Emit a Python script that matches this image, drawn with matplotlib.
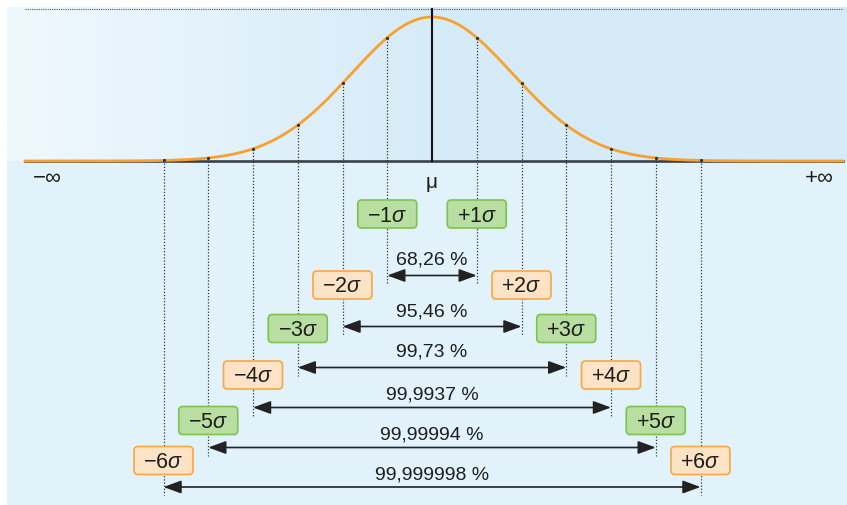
import numpy as np
import matplotlib
matplotlib.use("Agg")
import matplotlib.pyplot as plt
from matplotlib.patches import FancyBboxPatch, Rectangle
from matplotlib.colors import LinearSegmentedColormap

# ------------------ DATA ------------------
sigma_levels = [1, 2, 3, 4, 5, 6]
coverage_labels = ["68,26 %", "95,46 %", "99,73 %", "99,9937 %", "99,99994 %", "99,999998 %"]
box_kinds = ["green", "orange", "green", "orange", "green", "orange"]
curve_width = 1.8   # spread of the drawn bell, in sigma-marker units

# ------------------ LAYOUT (pixels) ------------------
W, H = 847, 506
MU_PX, SIGMA_PX = 432, 44.75
BASE_Y, PEAK_Y = 162, 18
box_y = [215, 286, 329.5, 376, 421.5, 461.5]
pct_y = [260, 312, 352, 395, 435, 475]
arrow_y = [276.5, 327.5, 368.5, 408.5, 448.5, 488]
BOX_W, BOX_H = 59, 28

FILL = {"green": "#b9dea1", "orange": "#fde3c6"}
EDGE = {"green": "#7cc352", "orange": "#f7a744"}
ORANGE = "#f8a12f"
TXT = "#1e1e1e"
FONT = ["Liberation Sans", "DejaVu Sans"]

plt.rcParams["font.family"] = FONT
plt.rcParams["mathtext.fontset"] = "custom"
plt.rcParams["mathtext.rm"] = "Liberation Sans"
plt.rcParams["mathtext.it"] = "Liberation Sans:italic"


def px_x(p):
    return (p - MU_PX) / SIGMA_PX


fig = plt.figure(figsize=(W / 100, H / 100), dpi=100)
ax = fig.add_axes([0, 0, 1, 1])
ax.axis("off")

# ------------------ BACKGROUND ------------------
# top band: light-to-blue gradient up to mu, flat blue to the right
xl, xr = px_x(7), px_x(W)
grad_cmap = LinearSegmentedColormap.from_list("bg", ["#eff8fd", "#e3f2fb", "#d6ebf8"])
ax.imshow(np.linspace(0, 1, 256)[None, :], extent=(xl, 0, BASE_Y, 8),
          aspect="auto", cmap=grad_cmap, zorder=0)
ax.add_patch(Rectangle((0, 8), xr, BASE_Y - 8, color="#d6ebf8", lw=0, zorder=0))
ax.add_patch(Rectangle((xl, BASE_Y), xr - xl, H - BASE_Y, color="#e1f2fa", lw=0, zorder=0))

# top dotted border
ax.plot([px_x(25), px_x(843)], [9.5, 9.5], ls=(0, (1, 1)), lw=0.8, color="#555555", zorder=1)

# ------------------ CURVE ------------------
x = np.linspace(px_x(25), px_x(843), 600)
bell = np.exp(-x ** 2 / (2 * curve_width ** 2))
ax.plot([px_x(25), px_x(843)], [BASE_Y, BASE_Y], color="#3a4248", lw=1.9, zorder=2)
ax.plot(x, BASE_Y - (BASE_Y - PEAK_Y) * bell, color=ORANGE, lw=2.0, zorder=3)
ax.plot([0, 0], [10, BASE_Y], color="#111111", lw=1.5, zorder=4)

ax.text(px_x(47), 178, "−∞", fontsize=16, ha="center", va="center", color=TXT)
ax.text(px_x(819), 178, "+∞", fontsize=16, ha="center", va="center", color=TXT)
ax.text(0, 182, "μ", fontsize=15, ha="center", va="center", color=TXT)

# ------------------ SIGMA MARKERS ------------------
for k, lab, kind, by, ty, ay in zip(sigma_levels, coverage_labels, box_kinds,
                                    box_y, pct_y, arrow_y):
    for s in (-1, 1):
        xs = s * k
        cy = BASE_Y - (BASE_Y - PEAK_Y) * np.exp(-xs ** 2 / (2 * curve_width ** 2))
        ax.plot([xs, xs], [cy, ay + 8], ls=(0, (1, 1.5)), lw=0.9, color="#333333", zorder=2)
        ax.plot(xs, cy, "o", ms=1.3, color="#333333", zorder=4)
        bw = BOX_W / SIGMA_PX
        ax.add_patch(FancyBboxPatch((xs - bw / 2, by - BOX_H / 2), bw, BOX_H,
                                    boxstyle="round,pad=0,rounding_size=0.09",
                                    mutation_aspect=SIGMA_PX, fc=FILL[kind],
                                    ec=EDGE[kind], lw=1.2, zorder=5))
        sign = "-" if s < 0 else "+"
        ax.text(xs, by + 1, rf"${sign}{k}\sigma$", fontsize=15.5, ha="center",
                va="center", color=TXT, zorder=6)

    ax.annotate("", xy=(-k, ay), xytext=(k, ay),
                arrowprops=dict(arrowstyle="<|-|>,head_length=0.6,head_width=0.22",
                                mutation_scale=18, lw=1.2, color="#222222",
                                shrinkA=0, shrinkB=0), zorder=6)
    ax.text(0, ty, lab, fontsize=14, ha="center", va="center", color=TXT, zorder=6)

ax.set_xlim(px_x(0), px_x(W))
ax.set_ylim(H, 0)

fig.savefig("out.png", dpi=100, facecolor="white")
